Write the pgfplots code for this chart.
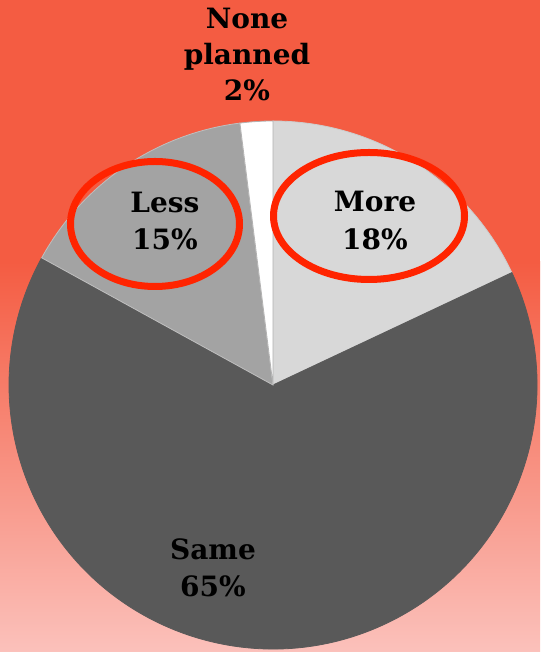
\documentclass[border=0pt]{standalone}
\usepackage{pgfplots}
\pgfplotsset{compat=1.18}
\usepackage{fontspec}
\setmainfont{DejaVu Serif}
% data (percent)
\def\vMore{18}
\def\vSame{65}
\def\vLess{15}
\def\vNone{2}
\pgfmathsetmacro{\aA}{90}
\pgfmathsetmacro{\aB}{\aA-3.6*\vMore}
\pgfmathsetmacro{\aC}{\aB-3.6*\vSame}
\pgfmathsetmacro{\aD}{\aC-3.6*\vLess}
\pgfmathsetmacro{\aE}{\aD-3.6*\vNone}
\definecolor{bgtop}{HTML}{F45C42}
\definecolor{bgbot}{HTML}{FBC1BB}
\definecolor{cMore}{HTML}{D8D8D8}
\definecolor{cSame}{HTML}{595959}
\definecolor{cLess}{HTML}{A3A3A3}
\definecolor{ering}{HTML}{FF2400}
\begin{document}
\begin{tikzpicture}
\begin{axis}[width=540pt,height=652pt,scale only axis,
  xmin=0,xmax=540,ymin=0,ymax=652,hide axis,clip=false]
\fill[bgtop] (axis cs:0,390) rectangle (axis cs:540,652);
\shade[top color=bgtop,bottom color=bgbot] (axis cs:0,0) rectangle (axis cs:540,390.5);
% wedges
\fill[cMore,draw=white!80!black,line width=0.8pt] (axis cs:273,267) -- ++(\aA:264) arc[start angle=\aA,end angle=\aB,radius=264] -- cycle;
\fill[cSame,draw=black!65,line width=0.8pt] (axis cs:273,267) -- ++(\aB:264) arc[start angle=\aB,end angle=\aC,radius=264] -- cycle;
\fill[cLess,draw=white!75!black,line width=0.8pt] (axis cs:273,267) -- ++(\aC:264) arc[start angle=\aC,end angle=\aD,radius=264] -- cycle;
\fill[white,draw=white!70!black,line width=0.8pt] (axis cs:273,267) -- ++(\aD:264) arc[start angle=\aD,end angle=\aE,radius=264] -- cycle;
% labels
\begin{scope}[every node/.style={font=\bfseries\fontsize{28}{34}\selectfont,anchor=base,inner sep=0pt}]
\node at (axis cs:247,623) {None};
\node at (axis cs:247,587) {planned};
\node at (axis cs:247,551) {2\%};
\node at (axis cs:165,439) {Less};
\node at (axis cs:165,402) {15\%};
\node at (axis cs:375,440) {More};
\node at (axis cs:375,402) {18\%};
\node at (axis cs:213,92) {Same};
\node at (axis cs:213,55) {65\%};
\end{scope}
% highlight rings
\draw[ering,line width=7pt] (axis cs:155,428) ellipse [x radius=84.5, y radius=62.5];
\draw[ering,line width=7pt] (axis cs:369,436) ellipse [x radius=95.5, y radius=63.5];
\end{axis}
\pgfresetboundingbox
\path[use as bounding box] (current axis.south west) rectangle (current axis.north east);
\end{tikzpicture}
\end{document}
